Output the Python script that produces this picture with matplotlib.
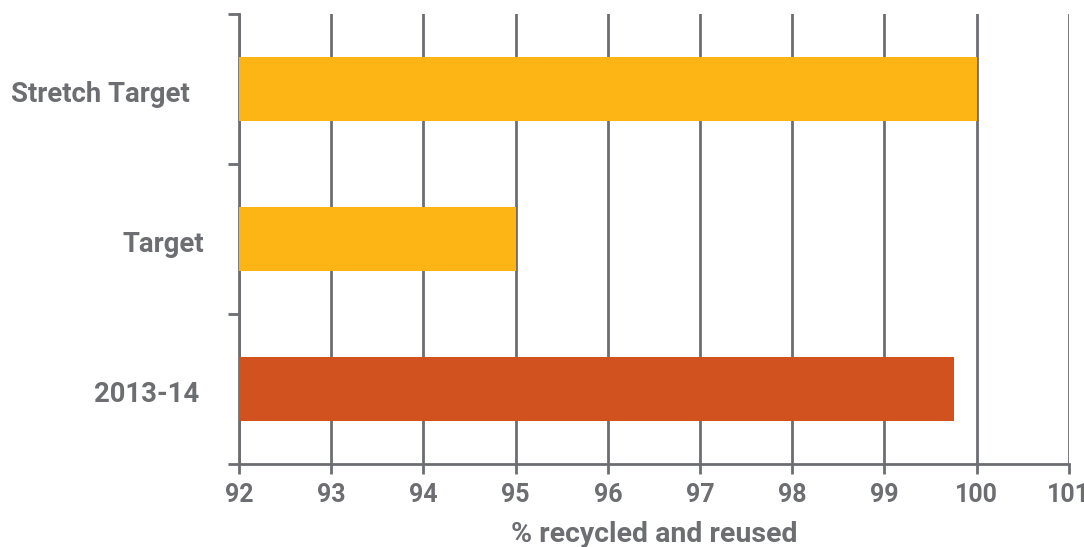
import matplotlib
matplotlib.use("Agg")
import matplotlib.pyplot as plt
import matplotlib.transforms as mtransforms

# Dados do gráfico
categories = ["2013-14", "Target", "Stretch Target"]
values = [99.75, 95, 100]
bar_colors = ["#D2521F", "#FDB515", "#FDB515"]
x_ticks = [92, 93, 94, 95, 96, 97, 98, 99, 100, 101]

grey = "#6D6E71"
plt.rcParams['font.family'] = ['Roboto', 'DejaVu Sans']

fig = plt.figure(figsize=(10.84, 5.47), dpi=100)
ax = fig.add_axes([0.2205, 0.1517, 0.7655, 0.8227])

base = x_ticks[0]
ax.barh(range(len(categories)), [v - base for v in values], left=base,
        height=0.43, color=bar_colors, zorder=3)

ax.set_xlim(92, 101)
ax.set_ylim(-0.5, len(categories) - 0.5)
ax.set_xticks(x_ticks)
ax.set_xticklabels([str(t) for t in x_ticks], fontsize=18, fontweight='bold', color=grey)

# rótulos das categorias no centro, ticks nas divisórias
ax.set_yticks(range(len(categories)))
ax.set_yticklabels(categories, fontsize=19.8, fontweight='bold', color=grey)
ax.set_yticks([-0.5, 0.5, 1.5, 2.5], minor=True)
ax.tick_params(axis='y', which='major', length=0, pad=25)
ax.tick_params(axis='y', which='minor', length=8, width=2, color=grey)
ax.tick_params(axis='x', length=7, width=2, color=grey, pad=7)

# deslocamento individual de cada rótulo (como no original)
shifts = [5, 0, 15]
for lbl, dx in zip(ax.get_yticklabels(), shifts):
    lbl.set_transform(lbl.get_transform() +
                      mtransforms.ScaledTranslation(-dx / 100, -2 / 100, fig.dpi_scale_trans))

ax.grid(axis='x', color=grey, linewidth=2, zorder=0)
for side in ['top', 'right']:
    ax.spines[side].set_visible(False)
for side in ['left', 'bottom']:
    ax.spines[side].set_color(grey)
    ax.spines[side].set_linewidth(2)

ax.set_xlabel("% recycled and reused", fontsize=20.5, fontweight='bold', color=grey, labelpad=10)

fig.savefig("out.png", dpi=100)
